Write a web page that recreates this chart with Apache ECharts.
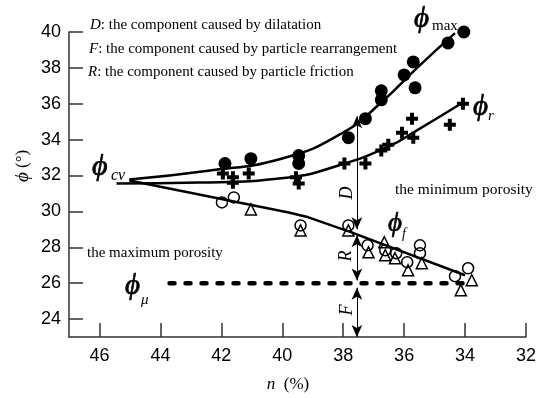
<!DOCTYPE html>
<html>
<head>
<meta charset="utf-8">
<script src="https://cdn.jsdelivr.net/npm/echarts@6/dist/echarts.min.js"></script>
<style>
  html, body { margin: 0; padding: 0; background: #fff; }
  #content { width: 539px; height: 398px; }
</style>
</head>
<body>
<div id="content"></div>
<script>
// measured points, [n (%), phi (deg)]
var phiMaxPts = [[41.88,32.67],[41.03,32.94],[39.46,33.11],[39.46,32.67],[37.83,34.11],[37.27,35.17],
    [36.75,36.72],[36.75,36.22],[36.0,37.61],[35.7,38.33],[35.64,36.89],[34.56,39.39],[34.04,40.0]];
var phiRPts = [[41.95,32.11],[41.62,31.9],[41.62,31.6],[41.1,32.11],[39.55,31.9],[39.46,31.56],
    [37.96,32.67],[37.27,32.67],[36.75,33.39],[36.52,33.72],[36.07,34.39],[35.7,34.11],
    [35.74,35.17],[34.5,34.83],[34.07,36.0]];
var phiFCircle = [[41.98,30.5],[41.59,30.78],[39.4,29.22],[37.83,29.22],[37.2,28.11],[36.62,27.83],
    [36.26,27.67],[35.9,27.17],[35.48,28.11],[35.48,27.67],[34.33,26.39],[33.9,26.83]];
var phiFTri = [[41.03,30.11],[39.4,28.94],[37.83,28.94],[37.17,27.72],[36.65,28.28],[36.62,27.56],
    [36.3,27.39],[35.87,26.72],[35.42,27.11],[34.14,25.61],[33.78,26.17]];

// fitted curves
var maxCurve = [[45.02,31.78],[42.5,32.25],[40.0,32.95],[38.0,34.4],[36.69,36.17],[35.54,38.06],[34.33,39.94]];
var rCurve = [[45.44,31.56],[42.73,31.61],[39.79,31.89],[38.16,32.56],[36.52,33.61],[35.54,34.56],[34.14,36.0]];
var fCurve = [[45.02,31.72],[39.79,29.94],[39.14,29.67],[37.73,28.83],[34.0,26.44]];
var muLine = [[43.7,26],[34.0,26]];

// component arrows at n = 37.55
var arrowX = 37.55;
var dArrow = [29.0, 35.3];
var rArrow = [28.67, 26.15];
var fArrow = [25.75, 23.0];

var xTicks = [46, 44, 42, 40, 38, 36, 34, 32];
var yTicks = [24, 26, 28, 30, 32, 34, 36, 38, 40];

var serif = 'Liberation Serif';
var PHI = '\u03D5';
var plusPath = 'path://M4,0H8V4H12V8H8V12H4V8H0V4H4Z';

function arrow(pair) {
    return [{coord: [arrowX, pair[0]]}, {coord: [arrowX, pair[1]]}];
}

function txt(x, y, text, size, italic, extra) {
    var s = {
        text: text, x: 0, y: 0, fill: '#000',
        font: (italic ? 'italic ' : '') + size + 'px "' + serif + '"',
        textAlign: 'left', textVerticalAlign: 'middle'
    };
    for (var k in extra) s[k] = extra[k];
    return {type: 'text', x: x, y: y, style: s, z: 100};
}

var ital = {rich: {i: {fontStyle: 'italic', fontSize: 15, fontFamily: serif}}};
var heavy = {stroke: '#000', lineWidth: 0.7};

var myChart = echarts.init(document.getElementById('content'));
myChart.setOption({
    animation: false,
    grid: {left: 69, right: 10, top: 32, bottom: 61},
    xAxis: {
        type: 'value', inverse: true, min: 32, max: 47,
        axisLine: {lineStyle: {color: '#333', width: 1.5}},
        axisTick: {inside: true, length: 14, customValues: xTicks, lineStyle: {color: '#333', width: 1.5}},
        axisLabel: {customValues: xTicks, color: '#000', fontSize: 18, fontFamily: 'Liberation Sans', margin: 10},
        splitLine: {show: false}
    },
    yAxis: {
        type: 'value', min: 23, max: 40,
        axisLine: {show: true, lineStyle: {color: '#333', width: 1.5}},
        axisTick: {show: true, inside: true, length: 14, customValues: yTicks, lineStyle: {color: '#333', width: 1.5}},
        axisLabel: {customValues: yTicks, color: '#000', fontSize: 18, fontFamily: 'Liberation Sans', margin: 8},
        splitLine: {show: false}
    },
    series: [
        {
            type: 'line', data: maxCurve, smooth: true, symbol: 'none',
            lineStyle: {color: '#000', width: 2.5}
        },
        {
            type: 'line', data: rCurve, smooth: true, symbol: 'none',
            lineStyle: {color: '#000', width: 2.5}
        },
        {
            type: 'line', data: fCurve, symbol: 'none',
            lineStyle: {color: '#000', width: 2.5}
        },
        {
            type: 'line', data: muLine, symbol: 'none',
            lineStyle: {color: '#000', width: 4.5, type: [5, 11], cap: 'round'},
            markLine: {
                silent: true, symbol: ['arrow', 'arrow'], symbolSize: [8, 12],
                label: {show: false},
                lineStyle: {color: '#000', width: 1, type: 'solid'},
                data: [arrow(dArrow), arrow(rArrow), arrow(fArrow)]
            }
        },
        {
            type: 'scatter', data: phiMaxPts, symbol: 'circle', symbolSize: 13,
            itemStyle: {color: '#000', opacity: 1}
        },
        {
            type: 'scatter', data: phiRPts, symbol: plusPath, symbolSize: 12,
            itemStyle: {color: '#000', opacity: 1}
        },
        {
            type: 'scatter', data: phiFTri, symbol: 'triangle', symbolSize: 11,
            itemStyle: {color: '#fff', borderColor: '#000', borderWidth: 1.5, opacity: 1}
        },
        {
            type: 'scatter', data: phiFCircle, symbol: 'circle', symbolSize: 11,
            itemStyle: {color: 'rgba(255,255,255,0)', borderColor: '#000', borderWidth: 1.5, opacity: 1}
        }
    ],
    graphic: [
        txt(90, 25, '{i|D}: the component caused by dilatation', 15, false, ital),
        txt(89, 49, '{i|F}: the component caused by particle rearrangement', 15, false, ital),
        txt(88, 72, '{i|R}: the component caused by particle friction', 15, false, ital),
        txt(395, 190, 'the minimum porosity', 15.5, false),
        txt(87, 253, 'the maximum porosity', 15, false),
        // phi labels
        txt(414, 19, PHI, 29, true, heavy),
        txt(432, 26, 'max', 15, false),
        txt(473, 107, PHI, 29, true, heavy),
        txt(488, 116, 'r', 15, true),
        txt(92, 167, PHI, 30, true, heavy),
        txt(111, 176, 'cv', 16, true),
        txt(388, 224, PHI, 27, true, heavy),
        txt(402, 234, 'f', 14, true),
        txt(125, 286, PHI, 29, true, heavy),
        txt(141, 300, 'μ', 15, true),
        // component letters beside arrows
        {type: 'text', x: 347, y: 193, rotation: Math.PI / 2, z: 100,
            style: {text: 'D', font: 'italic 18px "' + serif + '"', fill: '#000', textAlign: 'center', textVerticalAlign: 'middle'}},
        {type: 'text', x: 346, y: 256, rotation: Math.PI / 2, z: 100,
            style: {text: 'R', font: 'italic 18px "' + serif + '"', fill: '#000', textAlign: 'center', textVerticalAlign: 'middle'}},
        {type: 'text', x: 347, y: 310, rotation: Math.PI / 2, z: 100,
            style: {text: 'F', font: 'italic 18px "' + serif + '"', fill: '#000', textAlign: 'center', textVerticalAlign: 'middle'}},
        // axis names
        {type: 'text', x: 23, y: 166, rotation: Math.PI / 2, z: 100,
            style: {text: '{i|' + PHI + '} (°)', font: '17px "' + serif + '"', fill: '#000', textAlign: 'center', textVerticalAlign: 'middle',
                rich: {i: {fontStyle: 'italic', fontSize: 19, fontFamily: serif}}}},
        {type: 'text', x: 288, y: 385, z: 100,
            style: {text: '{i|n}  (%)', font: '17px "' + serif + '"', fill: '#000', textAlign: 'center', textVerticalAlign: 'middle',
                rich: {i: {fontStyle: 'italic', fontSize: 17, fontFamily: serif}}}}
    ]
});
</script>
</body>
</html>
